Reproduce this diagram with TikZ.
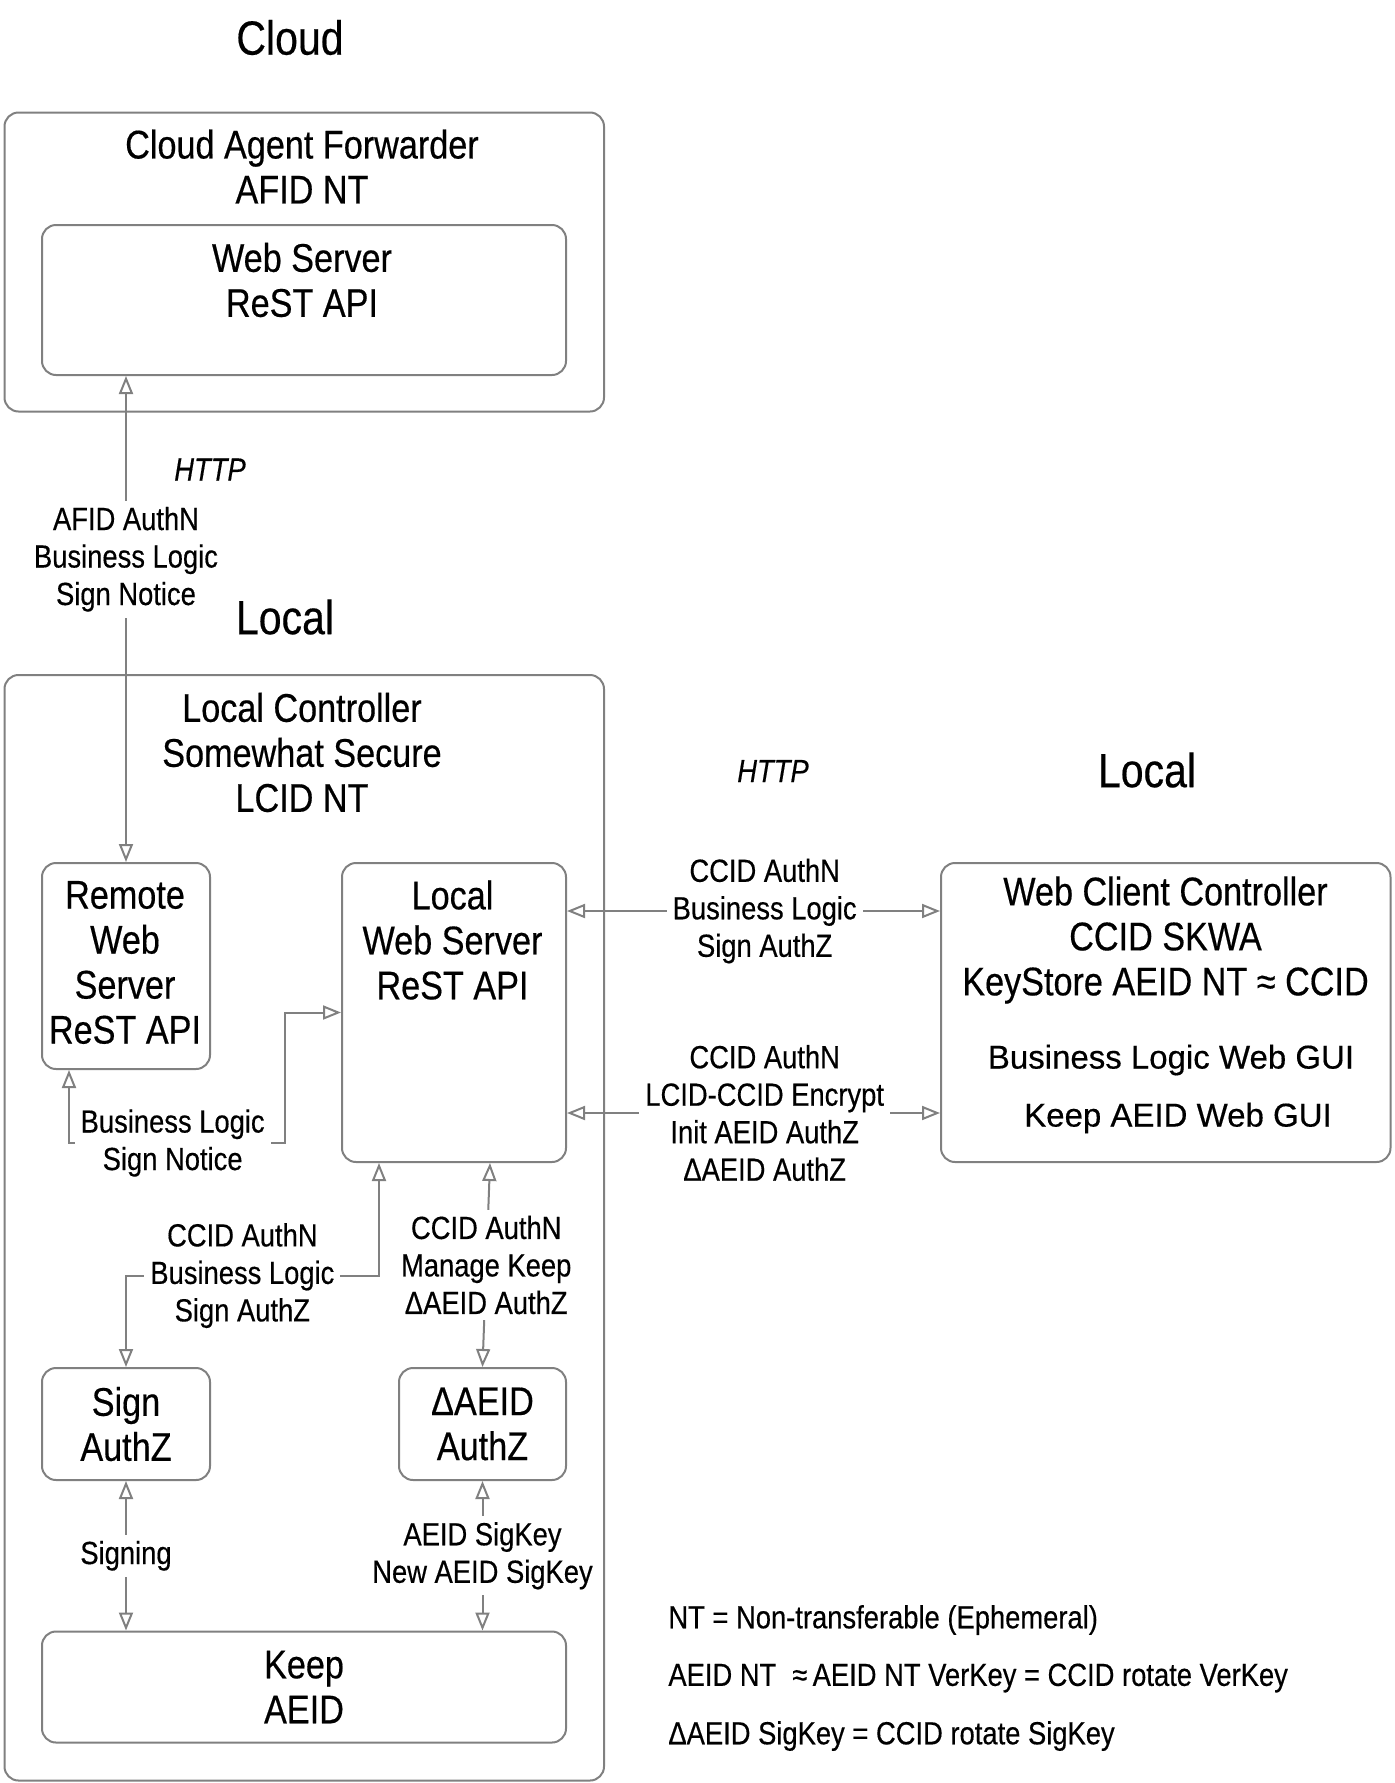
\documentclass[tikz,border=0pt]{standalone}
\usepackage{fontspec}
\setmainfont{Liberation Sans}[FakeStretch=0.855, FakeBold=0.4]
\newfontfamily\guifont{Liberation Sans}[FakeBold=0.4]
\usetikzlibrary{arrows.meta, positioning, calc}
\definecolor{edgegray}{RGB}{128,128,128}

\begin{document}
\begin{tikzpicture}[
    x=0.5pt, y=-0.5pt,
    >={Triangle[open, length=9pt, width=7pt]},
    every node/.style={align=center, inner sep=2pt},
    box/.style={draw=edgegray, line width=1pt, rounded corners=7pt},
    heading/.style={font=\fontsize{24}{28}\selectfont},
    title/.style={font=\fontsize{20}{22.5}\selectfont},
    note/.style={font=\fontsize{16}{18.75}\selectfont},
    lbl/.style={note, fill=white, inner sep=3pt},
    proto/.style={font=\fontsize{16}{18.75}\selectfont\itshape},
    gui/.style={font=\guifont\fontsize{16.5}{20}\selectfont},
    link/.style={<->, draw=edgegray, line width=1pt},
]
\useasboundingbox (0,0) rectangle (1395,1783);

% --- Cloud side
\node[heading] (cloudhd) at (290,37.5) {Cloud};
\node[box, minimum width=299.75pt, minimum height=149.5pt] (cloudbox) at (304.25,262) {};
\node[title] (cloudttl) at (302,166.5) {Cloud Agent Forwarder\\AFID NT};
\node[box, minimum width=262pt, minimum height=75pt] (cloudws) at (304,300) {};
\node[title] (cloudwsttl) at (302,280) {Web Server\\ReST API};
\node[proto] (http1) at (210,469.5) {HTTP};

% --- Local controller
\node[heading] (localhd) at (285,617) {Local};
\node[box, minimum width=299.75pt, minimum height=552.75pt] (localbox) at (304.25,1227.75) {};
\node[title] (localttl) at (302,752.5) {Local Controller\\Somewhat Secure\\LCID NT};
\node[box, minimum width=84pt, minimum height=103pt] (remote) at (126,966) {};
\node[title] (remotettl) at (125,962.5) {Remote\\Web\\Server\\ReST API};
\node[box, minimum width=112pt, minimum height=149.5pt] (lws) at (454,1012.5) {};
\node[title] (lwsttl) at (452.5,940) {Local\\Web Server\\ReST API};
\node[box, title, minimum width=84pt, minimum height=56pt] (sign) at (126,1424) {Sign\\AuthZ};
\node[box, title, minimum width=83.5pt, minimum height=56pt] (daeid) at (482.5,1424) {ΔAEID\\AuthZ};
\node[box, title, minimum width=262pt, minimum height=55.5pt] (keep) at (304,1687) {Keep\\AEID};

% --- Web client side
\node[proto] (http2) at (773,771) {HTTP};
\node[heading] (clienthd) at (1147,770) {Local};
\node[box, minimum width=224.75pt, minimum height=149.5pt] (wcc) at (1165.75,1012.5) {};
\node[title] (wccttl) at (1165.5,940) {Web Client Controller\\CCID SKWA\\KeyStore AEID NT ≈ CCID};
\node[gui] (guibl) at (1171,1060) {Business Logic Web GUI};
\node[gui] (guikeep) at (1178,1118) {Keep AEID Web GUI};

% --- Legend
\node[note, anchor=west] (lgnt) at (664,1620) {NT = Non-transferable (Ephemeral)};
\node[note, anchor=west] (lgaeid) at (664,1678) {AEID NT\enspace≈\,AEID NT VerKey = CCID rotate VerKey};
\node[note, anchor=west] (lgsig) at (664,1736) {ΔAEID SigKey = CCID rotate SigKey};

% --- Connectors
\coordinate (remfoot) at ($(remote.south west)+(28,0)$);
\coordinate (blturn) at (285,1143);
\coordinate (lwsfoot) at ($(lws.south west)+(38,0)$);
\coordinate (lwsmid) at ($(lws.south west)+(149,0)$);
\coordinate (signturn) at (126,1275.6);
\coordinate (ahttp) at ($(lws.north east)+(0,49)$);
\coordinate (bhttp) at ($(lws.south east)+(0,-50)$);

\draw[link] (remote.north |- cloudws.south) -- node[lbl, pos=0.377]{AFID AuthN\\Business Logic\\Sign Notice} (remote.north);
\draw[link] (lws.west) -| (blturn) -- node[lbl, pos=0.52]{Business Logic\\Sign Notice} (blturn -| remfoot) -- (remfoot);
\draw[link] (lwsfoot) |- node[lbl, pos=0.77]{CCID AuthN\\Business Logic\\Sign AuthZ} (signturn) -- (sign.north);
\draw[link] (lwsmid) -- node[lbl]{CCID AuthN\\Manage Keep\\ΔAEID AuthZ} (daeid.north);
\draw[link] (sign.south) -- node[lbl]{Signing} (sign.south |- keep.north);
\draw[link] (daeid.south) -- node[lbl]{AEID SigKey\\New AEID SigKey} (daeid.south |- keep.north);
\draw[link] (ahttp) -- node[lbl, pos=0.53]{CCID AuthN\\Business Logic\\Sign AuthZ} (ahttp -| wcc.west);
\draw[link] (bhttp) -- node[lbl, pos=0.53]{CCID AuthN\\LCID-CCID Encrypt\\Init AEID AuthZ\\ΔAEID AuthZ} (bhttp -| wcc.west);

\end{tikzpicture}
\end{document}
